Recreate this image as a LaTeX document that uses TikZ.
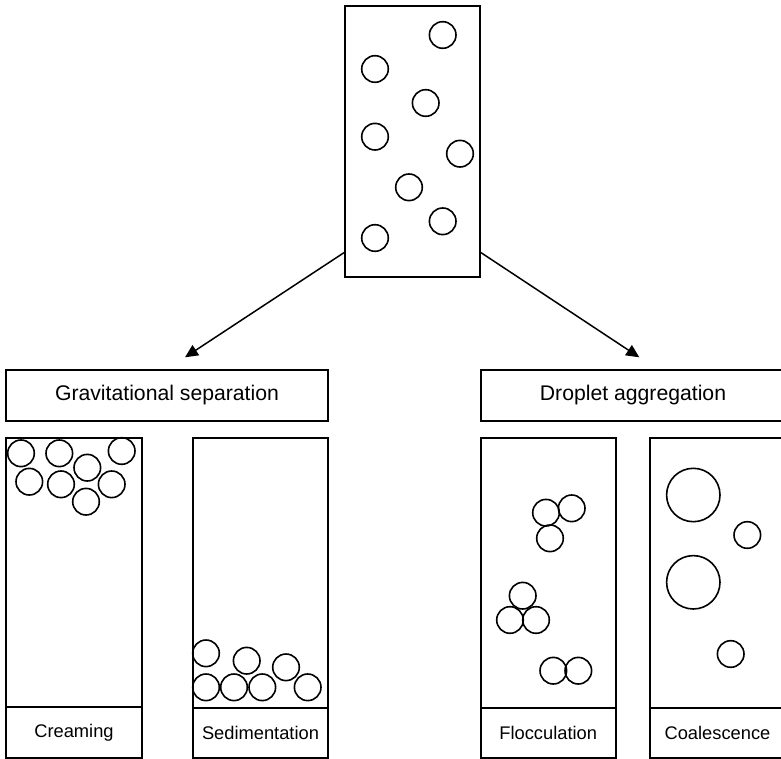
\documentclass[tikz,border=0pt]{standalone}
\usepackage{fontspec}
\setmainfont{Liberation Sans}
\usetikzlibrary{arrows.meta}
\begin{document}
\begin{tikzpicture}[x=1pt,y=-1pt,
  box/.style={draw,line width=1.8pt,inner sep=0pt,anchor=center},
  drop/.style={draw,circle,line width=1.6pt,inner sep=0pt,minimum size=26.6pt},
  bigdrop/.style={draw,circle,line width=1.6pt,inner sep=0pt,minimum size=53.4pt},
  head/.style={font=\fontsize{21.2}{24}\selectfont},
  lab/.style={font=\fontsize{18.3}{22}\selectfont},
  arr/.style={line width=1.5pt,-{Triangle[length=13pt,width=12pt]}}]
\useasboundingbox (0,0) rectangle (781,759);
\clip (0,0) rectangle (781,759);
% top container
\node[box,minimum width=135pt,minimum height=271pt] (top) at (412.5,141.5) {};
\node[drop] (t1) at (442.7,35) {};
\node[drop] (t2) at (375,69) {};
\node[drop] (t3) at (425.7,103) {};
\node[drop] (t4) at (375,136.7) {};
\node[drop] (t5) at (460,153.7) {};
\node[drop] (t6) at (409,187.3) {};
\node[drop] (t7) at (442.7,221.3) {};
\node[drop] (t8) at (375,238) {};
% headers
\node[box,head,minimum width=322pt,minimum height=51pt] (grav) at (167,395.5) {Gravitational separation};
\node[box,head,minimum width=304pt,minimum height=51pt] (aggr) at (633,395.5) {Droplet aggregation};
% arrows
\coordinate (gtip) at (185,357.3);
\coordinate (atip) at (639.3,357.3);
\draw[arr] (345,252) -- (gtip);
\draw[arr] (480,252) -- (atip);
% creaming tube
\node[box,minimum width=136pt,minimum height=269.3pt] (cream) at (74,572.3) {};
\node[box,lab,minimum width=136pt,minimum height=51pt] (creamlab) at (74,732.5) {Creaming};
\node[drop] (c1) at (21,453.3) {};
\node[drop] (c2) at (59.3,453.3) {};
\node[drop] (c3) at (121.7,451) {};
\node[drop] (c4) at (87.3,467.7) {};
\node[drop] (c5) at (29.3,481.7) {};
\node[drop] (c6) at (61,484.3) {};
\node[drop] (c7) at (111.7,484.3) {};
\node[drop] (c8) at (86,501.7) {};
% sedimentation tube
\node[box,minimum width=135.6pt,minimum height=270.6pt] (sed) at (260.5,573) {};
\node[box,lab,minimum width=135.6pt,minimum height=50pt] (sedlab) at (260.5,733.2) {Sedimentation};
\node[drop] (s1) at (206,653.3) {};
\node[drop] (s2) at (246.7,660.7) {};
\node[drop] (s3) at (286,667.3) {};
\node[drop] (s4) at (206,687.3) {};
\node[drop] (s5) at (234,687.3) {};
\node[drop] (s6) at (262.3,687.3) {};
\node[drop] (s7) at (307.7,687.3) {};
% flocculation tube
\node[box,minimum width=135pt,minimum height=270.3pt] (floc) at (548.2,572.8) {};
\node[box,lab,minimum width=135pt,minimum height=50pt] (floclab) at (548.2,733) {Flocculation};
\node[drop] (f1) at (546,512.7) {};
\node[drop] (f2) at (571.7,508.3) {};
\node[drop] (f3) at (550,538.3) {};
\node[drop] (f4) at (522.7,595.7) {};
\node[drop] (f5) at (510,620) {};
\node[drop] (f6) at (536,620) {};
\node[drop] (f7) at (553.3,670.7) {};
\node[drop] (f8) at (578.3,670.7) {};
% coalescence tube
\node[box,minimum width=135pt,minimum height=270.3pt] (coal) at (717.5,572.8) {};
\node[box,lab,minimum width=135pt,minimum height=50pt] (coallab) at (717.5,733) {Coalescence};
\node[bigdrop] (k1) at (693.3,495) {};
\node[drop] (k2) at (747.3,535) {};
\node[bigdrop] (k3) at (693.3,582.3) {};
\node[drop] (k4) at (730.7,654) {};
\end{tikzpicture}
\end{document}
